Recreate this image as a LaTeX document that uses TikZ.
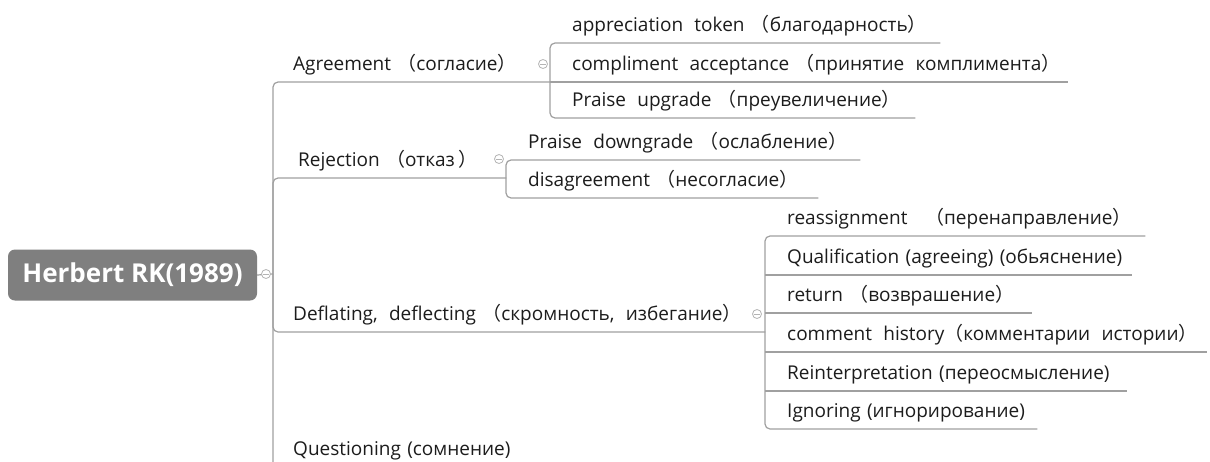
\documentclass[tikz,border=0pt]{standalone}
\usepackage{fontspec}
\setmainfont{Open Sans}
\newfontfamily\cjkfont{Noto Sans CJK SC}
\newcommand{\flp}{{\cjkfont （}}
\newcommand{\frp}{{\cjkfont ）}}
\newcommand{\ws}{\hspace{5pt}\ }
\definecolor{linegray}{HTML}{A0A0A0}
\definecolor{txt}{HTML}{1C1C1C}
\definecolor{rootgray}{HTML}{7F7F7F}
\definecolor{btn}{HTML}{B4B4B4}
\begin{document}
\begin{tikzpicture}[x=1pt,y=-1pt,
  conn/.style={draw=linegray, line width=1.2pt, rounded corners=5pt},
  topic/.style={anchor=south west, inner ysep=0pt, text height=13pt, text depth=11.5pt,
    align=left, text width=#1, font=\fontsize{19}{22}\selectfont, text=txt},
  lvl1/.style={inner xsep=20pt},
  lvl2/.style={inner xsep=22pt},
  btnc/.style={circle, draw=btn, fill=white, line width=0.8pt, minimum size=9pt, inner sep=0pt,
    path picture={\draw[btn, line width=0.8pt]
      ([xshift=-2.6pt]path picture bounding box.center) -- ([xshift=2.6pt]path picture bounding box.center);}},
  rootbox/.style={fill=rootgray, rounded corners=7pt, text=white, inner sep=0pt,
    font=\fontsize{26}{30}\selectfont\bfseries}
]
\useasboundingbox (0,0) rectangle (1210,461);
\fill[white] (0,0) rectangle (1210,461);
\clip (0,0) rectangle (1210,461);

% root
\node[rootbox, minimum width=249pt, minimum height=51pt] (root) at (132.5,275) {Herbert RK(1989)};
\coordinate (hub) at (273,274);

% level 1
\node[topic=237pt, lvl1] (agr) at (273,82) {\mbox{Agreement \flp согласие\frp}};
\node[topic=183pt, inner xsep=25pt] (rej) at (273,178) {\mbox{Rejection \flp отказ\,\frp}};
\node[topic=452pt, lvl1] (defl) at (273,332) {\mbox{Deflating,\ws deflecting \flp скромность,\ws избегание\frp}};
\node[topic=247pt, lvl1] (ques) at (273,467) {\mbox{Questioning (сомнение)}};

% agreement children
\node[topic=346pt, lvl2] (a1) at (550,43) {\mbox{appreciation\ws token \flp благодарность\frp}};
\node[topic=474pt, lvl2] (a2) at (550,82) {\mbox{compliment\ws acceptance \flp принятие\ws комплимента\frp}};
\node[topic=321pt, lvl2] (a3) at (550,118) {\mbox{Praise\ws upgrade \flp преувеличение\frp}};

% rejection children
\node[topic=310pt, lvl2] (r1) at (506,160) {\mbox{Praise\ws downgrade \flp ослабление\frp}};
\node[topic=268pt, lvl2] (r2) at (506,198) {\mbox{disagreement \flp несогласие\frp}};

% deflating children
\node[topic=336pt, lvl2] (d1) at (765,236) {\mbox{reassignment \ws\flp перенаправление\frp}};
\node[topic=323pt, lvl2] (d2) at (765,275) {\mbox{Qualification (agreeing) (обьяснение)}};
\node[topic=223pt, lvl2] (d3) at (765,313) {\mbox{return \flp возврашение\frp}};
\node[topic=398pt, lvl2] (d4) at (765,352) {\mbox{comment\ws history\flp комментарии\ws истории\frp}};
\node[topic=318pt, lvl2] (d5) at (765,391) {\mbox{Reinterpretation (переосмысление)}};
\node[topic=228pt, lvl2] (d6) at (765,429) {\mbox{Ignoring (игнорирование)}};

% connectors
\draw[conn] (root.east) -- (hub);
\draw[conn] (hub) |- (agr.south east);
\draw[conn] (hub) |- (rej.south east);
\draw[conn] (hub) |- (defl.south east);
\draw[conn] (hub) |- (ques.south east);

\draw[conn] (a1.south east) -- (a1.south west) -- (a3.south west) -- (a3.south east);
\draw[conn] (a2.south west) -- (a2.south east);

\draw[conn] (r1.south east) -- (r1.south west) -- (r2.south west) -- (r2.south east);

\draw[conn] (d1.south east) -- (d1.south west) -- (d6.south west) -- (d6.south east);
\draw[conn] (d2.south west) -- (d2.south east);
\draw[conn] (d3.south west) -- (d3.south east);
\draw[conn] (d4.south west) -- (d4.south east);
\draw[conn] (d5.south west) -- (d5.south east);

% collapse buttons
\node[btnc] (brt) at (266,274) {};
\node[btnc] (bagr) at (543,64) {};
\node[btnc] (brej) at (499,159) {};
\node[btnc] (bdef) at (757,314) {};
\end{tikzpicture}
\end{document}
